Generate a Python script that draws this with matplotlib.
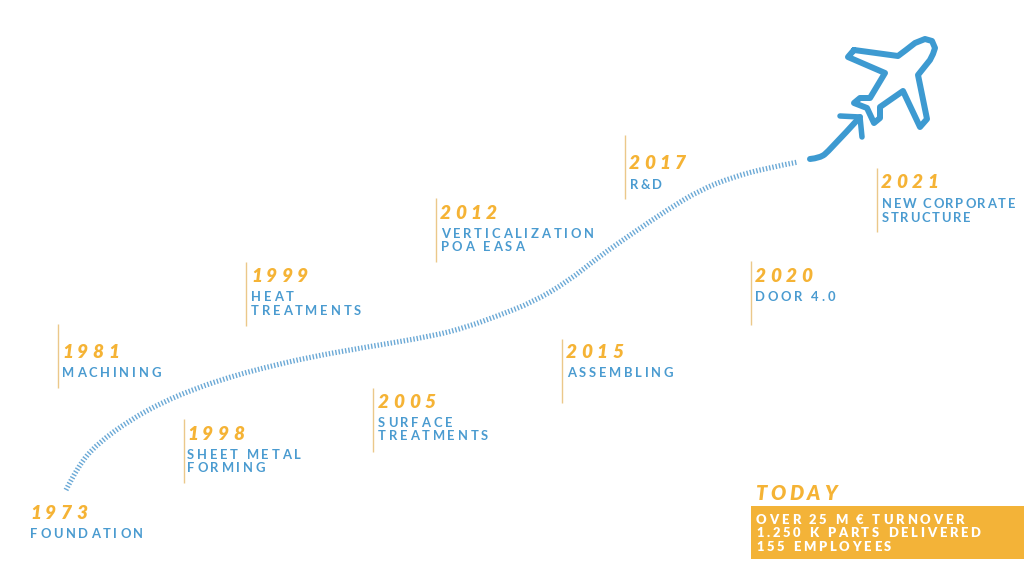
import matplotlib
matplotlib.use("Agg")
import matplotlib.pyplot as plt
from matplotlib.path import Path
from matplotlib.patches import PathPatch, Rectangle
from matplotlib.text import Text

YEAR_C = "#F5B335"
LABEL_C = "#4A9BD0"
RULE_C = "#EBC88A"
BOX_C = "#F3B338"
ICON_C = "#3D9AD1"
PT = 0.72  # points per pixel at dpi 100

years = ["1973", "1981", "1998", "1999", "2005", "2012", "2015", "2017", "2020", "2021"]
year_x = [30, 62, 187, 251, 378, 440, 566, 629, 755, 881]
year_base = [519, 358, 440, 282, 408, 219, 358, 169, 282, 188]
label_x = [30, 62, 187, 251, 378, 441, 567, 630, 755, 882]
label_base = [[538], [377], [459, 472], [301, 315], [427, 440], [238, 251], [377], [189], [301], [208, 222]]
label_lines = [["FOUNDATION"], ["MACHINING"], ["SHEET METAL", "FORMING"], ["HEAT", "TREATMENTS"],
               ["SURFACE", "TREATMENTS"], ["VERTICALIZATION", "POA EASA"], ["ASSEMBLING"], ["R&D"],
               ["DOOR 4.0"], ["NEW CORPORATE", "STRUCTURE"]]
label_track = [2.8, 2.8, 2.8, 2.8, 2.8, 2.8, 2.8, 2.2, 2.8, 1.7]
rule_x = [None, 58, 184, 246, 373, 436, 562, 625, 751, 877]
rule_top = [None, 324, 419, 262, 388, 198, 339, 135, 261, 168]
rule_bot = [None, 388, 483, 326, 452, 262, 403, 199, 325, 232]

today_title = "TODAY"
today_lines = ["OVER 25 M € TURNOVER", "1.250 K PARTS DELIVERED", "155 EMPLOYEES"]
today_base = [524, 537, 551]

curve_x = [66, 78, 97, 130, 163, 197, 230, 263, 310, 367, 433, 467, 500, 533, 567, 600, 633, 667, 700, 733, 767, 798]
curve_y = [490, 466, 444, 420, 402, 388, 377, 368, 357, 347, 336, 327, 315, 302, 282, 256, 233, 210, 190, 177, 168, 162]

plane_x = [854, 898, 906, 915, 925, 932, 935, 933, 930, 922, 918, 927, 920, 903, 880, 880, 874, 867, 854, 860, 870, 885, 848]
plane_y = [50, 56, 50, 43, 39, 41, 48, 54, 60, 70, 75, 119, 127, 91, 107, 118, 123, 108, 103, 98, 98, 73, 57]
arrow_x = [810, 820, 829, 860]
arrow_y = [159, 158, 151, 117]
head_x = [840, 860, 862]
head_y = [116, 117, 137]


class TrackedText(Text):
    """One text object drawn with letter spacing (pixels)."""
    def __init__(self, x, y, s, tracking=0, **kw):
        super().__init__(x, y, s, ha="left", va="baseline", **kw)
        self.tracking = tracking

    def get_window_extent(self, renderer=None, dpi=None):
        bb = super().get_window_extent(renderer, dpi).frozen()
        bb.x1 += self.tracking * (len(self.get_text()) - 1)
        return bb

    def draw(self, renderer):
        s = self.get_text()
        x0, y0 = self.get_position()
        fp = self.get_fontproperties()
        for i, ch in enumerate(s):
            w = 0
            if i:
                w = (renderer.get_text_width_height_descent(s[:i + 1], fp, False)[0]
                     - renderer.get_text_width_height_descent(ch, fp, False)[0])
            Text.set_text(self, ch)
            Text.set_position(self, (x0 + w + self.tracking * i, y0))
            Text.draw(self, renderer)
        Text.set_text(self, s)
        Text.set_position(self, (x0, y0))


fig = plt.figure(figsize=(10.24, 5.76), dpi=100, facecolor="white")
ax = fig.add_axes([0, 0, 1, 1])
ax.set_xlim(0, 1024)
ax.set_ylim(576, 0)
ax.axis("off")


def put(x, y, s, size_px, color, weight, style="normal", tracking=0):
    t = TrackedText(x, y, s, tracking=tracking, family=["Lato", "DejaVu Sans"], fontsize=size_px * PT,
                    color=color, fontweight=weight, fontstyle=style)
    ax.add_artist(t)
    return t


def smooth_path(xs, ys):
    pts = list(zip(xs, ys))
    verts, codes = [pts[0]], [Path.MOVETO]
    for i in range(1, len(pts) - 1):
        mid = ((pts[i][0] + pts[i + 1][0]) / 2, (pts[i][1] + pts[i + 1][1]) / 2)
        verts += [pts[i], mid if i < len(pts) - 2 else pts[-1]]
        codes += [Path.CURVE3, Path.CURVE3]
    return Path(verts, codes)


plt.rcParams["lines.scale_dashes"] = False
ax.add_patch(PathPatch(smooth_path(curve_x, curve_y), fill=False, edgecolor="#6BA9D6", linewidth=5.2 * PT,
                       linestyle=(0, (1.4 * PT, 1.9 * PT)), capstyle="butt"))

# plane and arrow
ax.plot(plane_x + plane_x[:1], plane_y + plane_y[:1], color=ICON_C, lw=6 * PT,
        solid_joinstyle="round", solid_capstyle="round")
ax.add_patch(PathPatch(smooth_path(arrow_x, arrow_y), fill=False, edgecolor=ICON_C, linewidth=6 * PT,
                       capstyle="round", joinstyle="round"))
ax.plot(head_x, head_y, color=ICON_C, lw=5.5 * PT, solid_joinstyle="round", solid_capstyle="round")

# milestones
for i, y in enumerate(years):
    if rule_x[i] is not None:
        ax.plot([rule_x[i], rule_x[i]], [rule_top[i], rule_bot[i]], color=RULE_C, lw=1.4 * PT,
                solid_capstyle="butt")
    put(year_x[i], year_base[i], y, 19, YEAR_C, "heavy", "italic", tracking=4.4)
    for line, b in zip(label_lines[i], label_base[i]):
        put(label_x[i], b, line, 13, LABEL_C, "bold", tracking=label_track[i])

# today box
ax.add_patch(Rectangle((751, 506), 273, 53, facecolor=BOX_C, edgecolor="none"))
put(756, 500, today_title, 20, YEAR_C, "heavy", "italic", tracking=3.4)
for line, b in zip(today_lines, today_base):
    put(756, b, line, 13, "white", "heavy", tracking=2.8)

fig.savefig("out.png", dpi=100, facecolor="white")
